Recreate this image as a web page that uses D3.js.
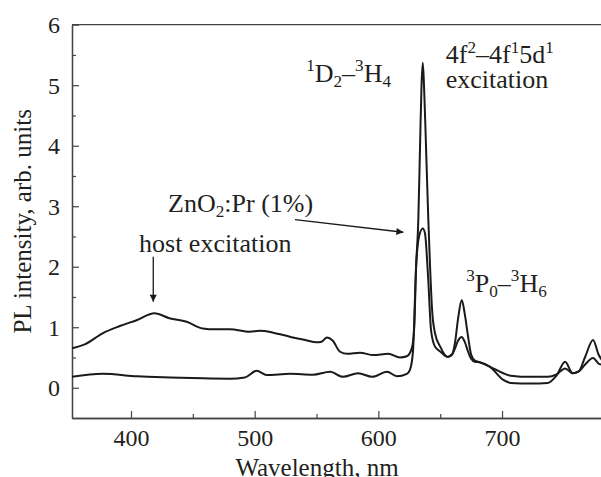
<!DOCTYPE html>
<html><head><meta charset="utf-8">
<script src="https://cdn.jsdelivr.net/npm/d3@7"></script>
<style>
html,body{margin:0;padding:0;background:#fff;}
svg{display:block;}
text{font-family:"Liberation Serif","Times New Roman",serif;fill:#231f20;}
</style></head>
<body>
<svg id="chart" width="601" height="477"></svg>
<script>
// ---- data ----
const wlA = [352,363,377,391,405,419,431,445,458,468,480,496,504,515,529,541,550,554,558.5,563,569,575,585,596,608,617.5,623,627,629,630.5,632.3,633.7,634.9,635.9,636.9,638.5,640.4,641.8,643.4,645.8,650,656,659.6,662,664.5,667.4,670,672.5,675,678,682,690,701,707,723,737,744,751,757,762,767,773.6,778,781];
const intA = [0.65,0.72,0.90,1.02,1.12,1.23,1.15,1.09,0.98,0.965,0.965,0.925,0.94,0.91,0.84,0.79,0.75,0.76,0.83,0.78,0.595,0.56,0.58,0.54,0.56,0.50,0.52,0.65,1.0,2.0,2.77,4.0,5.0,5.37,5.0,4.0,2.77,2.0,1.3,0.9,0.68,0.51,0.55,0.75,1.15,1.45,1.2,0.85,0.55,0.45,0.42,0.35,0.24,0.2,0.18,0.18,0.22,0.32,0.24,0.27,0.5,0.79,0.55,0.45];
const wlB = [352,377,405,431.5,458,480,492,501.6,509.7,528.6,547,561,571.4,583.6,595,607,615,623,625.6,628,630.5,632.9,635.9,637.7,640.2,642.6,645.8,650,656,659.6,662,664.5,667.4,670,672.5,675,678,682,690,701,707,723,737,744,751,757,762,767,773.6,778,781];
const intB = [0.18,0.23,0.19,0.17,0.155,0.15,0.17,0.28,0.21,0.23,0.215,0.265,0.18,0.24,0.18,0.265,0.19,0.23,0.3,0.6,2.0,2.5,2.63,2.55,1.83,0.95,0.68,0.6,0.51,0.55,0.65,0.78,0.84,0.75,0.6,0.48,0.43,0.42,0.35,0.13,0.08,0.07,0.08,0.2,0.43,0.24,0.27,0.38,0.49,0.40,0.38];
const xTicks = [400,500,600,700];
const xMinor = [450,550,650];
const yTicks = [0,1,2,3,4,5,6];
const yMinor = [0.5,1.5,2.5,3.5,4.5,5.5];
const xTitle = "Wavelength, nm";
const yTitle = "PL intensity, arb. units";

// ---- layout ----
const W = 601, H = 477;
const L = 72, T = 24.7, B = 418, R = 601;
const svg = d3.select("#chart");
const x = d3.scaleLinear().domain([352.3, 780]).range([L, R]);
const y = d3.scaleLinear().domain([-0.5, 6]).range([B, T]);
const ink = "#1a1a1a";

svg.append("defs").append("clipPath").attr("id","clip")
  .append("rect").attr("x",L).attr("y",T).attr("width",R-L).attr("height",B-T);

// frame top
svg.append("line").attr("x1",L).attr("x2",R).attr("y1",T).attr("y2",T)
  .attr("stroke","#444").attr("stroke-width",1.3);

// axes
const gx = svg.append("g").attr("transform",`translate(0,${B})`)
  .call(d3.axisBottom(x).tickValues(xTicks).tickSizeInner(-7).tickSizeOuter(0).tickPadding(10).tickFormat(d3.format("d")));
const gxm = svg.append("g").attr("transform",`translate(0,${B})`)
  .call(d3.axisBottom(x).tickValues(xMinor).tickSizeInner(-4).tickSizeOuter(0).tickFormat(""));
const gy = svg.append("g").attr("transform",`translate(${L},0)`)
  .call(d3.axisLeft(y).tickValues(yTicks).tickSizeInner(-7).tickSizeOuter(0).tickPadding(12).tickFormat(d3.format("d")));
const gym = svg.append("g").attr("transform",`translate(${L},0)`)
  .call(d3.axisLeft(y).tickValues(yMinor).tickSizeInner(-4).tickSizeOuter(0).tickFormat(""));
[gx,gxm,gy,gym].forEach(g=>{
  g.select(".domain").attr("stroke","#444").attr("stroke-width",1.3);
  g.selectAll(".tick line").attr("stroke","#444").attr("stroke-width",1.2);
  g.selectAll(".tick text").style("font-family","Liberation Serif").style("font-size","24px").attr("fill","#231f20");
});
gy.selectAll(".tick text").attr("dy","0.34em");
gx.selectAll(".tick text").attr("dy","0.75em");

// titles
svg.append("text").attr("x",317).attr("y",476).attr("text-anchor","middle")
  .style("font-size","25px").text(xTitle);
svg.append("text").attr("transform",`translate(31,${(T+B)/2}) rotate(-90)`).attr("text-anchor","middle")
  .style("font-size","25px").text(yTitle);

// lines
const line = d3.line().x(d=>x(d[0])).y(d=>y(d[1])).curve(d3.curveMonotoneX);
const plot = svg.append("g").attr("clip-path","url(#clip)");
[[wlA,intA],[wlB,intB]].forEach(([w,v])=>{
  plot.append("path").datum(w.map((d,i)=>[d,v[i]]))
    .attr("d",line).attr("fill","none").attr("stroke",ink).attr("stroke-width",2).attr("stroke-linejoin","round");
});

// rich text helper
function rich(px, py, parts, fs){
  const t = svg.append("text").attr("x",px).attr("y",py).style("font-size",fs+"px");
  let cur = 0;
  parts.forEach(([s,k])=>{
    const off = k==="sup" ? -0.42*fs : k==="sub" ? 0.22*fs : 0;
    t.append("tspan").attr("dy", off-cur).style("font-size",(k==="n"?fs:fs*0.66)+"px").text(s);
    cur = off;
  });
  return t;
}
const FS = 26;
rich(x(541.6), y(5.06), [["1","sup"],["D","n"],["2","sub"],["–","n"],["3","sup"],["H","n"],["4","sub"]], FS);
rich(x(654.5), y(5.36), [["4f","n"],["2","sup"],["–4f","n"],["1","sup"],["5d","n"],["1","sup"]], FS);
rich(x(654.5), y(4.95), [["excitation","n"]], FS);
rich(x(671), y(1.587), [["3","sup"],["P","n"],["0","sub"],["–","n"],["3","sup"],["H","n"],["6","sub"]], FS);
rich(x(406.5), y(2.25), [["host excitation","n"]], FS);
rich(x(430), y(2.91), [["ZnO","n"],["2","sub"],[":Pr (1%)","n"]], FS);

// arrows
const defs = svg.select("defs");
defs.append("marker").attr("id","ah").attr("viewBox","0 0 10 10").attr("refX",10).attr("refY",5)
  .attr("markerWidth",11).attr("markerHeight",7).attr("markerUnits","userSpaceOnUse").attr("orient","auto")
  .append("path").attr("d","M0,0 L10,5 L0,10 Z").attr("fill",ink);
svg.append("line").attr("x1",x(418)).attr("y1",y(2.165)).attr("x2",x(418)).attr("y2",y(1.42))
  .attr("stroke",ink).attr("stroke-width",1.3).attr("marker-end","url(#ah)");
svg.append("line").attr("x1",x(532.6)).attr("y1",y(2.78)).attr("x2",x(620.2)).attr("y2",y(2.57))
  .attr("stroke",ink).attr("stroke-width",1.3).attr("marker-end","url(#ah)");
</script>
</body></html>
